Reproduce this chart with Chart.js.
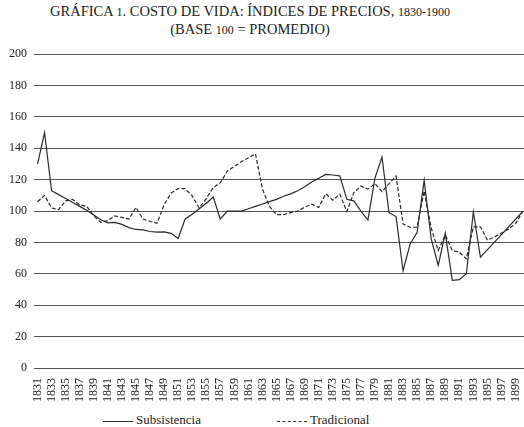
<!DOCTYPE html>
<html>
<head>
<meta charset="utf-8">
<script src="https://cdn.jsdelivr.net/npm/chart.js@4"></script>
<style>
  html, body { margin: 0; padding: 0; width: 524px; height: 427px; overflow: hidden; background: #fff; }
  body { position: relative; font-family: 'Liberation Serif', serif; color: #222; }
  #title { position: absolute; top: 3px; left: 0; width: 500px; text-align: center; font-size: 14.5px; line-height: 16.5px; }
  #title .num { font-size: 12px; }
  #wrap { position: absolute; left: 0; top: 40px; width: 539px; height: 364px; }
  #legend { position: absolute; top: 412px; left: 0; width: 524px; height: 15px; font-size: 13px; }
  .item { position: absolute; top: 0; white-space: nowrap; }
  .sample { display: inline-block; width: 30px; height: 0; vertical-align: middle; margin-right: 3px; border-top: 1.2px solid #333; }
  .sample.dash { border-top-style: dashed; }
</style>
</head>
<body>
<div id="title">GRÁFICA <span class="num">1</span>. COSTO DE VIDA: ÍNDICES DE PRECIOS, <span class="num">1830-1900</span><br>(BASE <span class="num">100</span> = PROMEDIO)</div>
<div id="wrap"><canvas id="chart"></canvas></div>
<div id="legend">
  <div class="item" style="left:103px"><span class="sample"></span>Subsistencia</div>
  <div class="item" style="left:277px"><span class="sample dash"></span>Tradicional</div>
</div>
<script>
// años 1831-1900
const years = [];
for (let y = 1831; y <= 1900; y++) years.push(String(y));

// índice de subsistencia (línea continua)
const subsistencia = [
  130, 150, 113, 110.5, 108, 105.5, 103, 100.5, 97.5, 94.5,
  92.5, 92.8, 91.5, 89.5, 88.3, 88, 87, 86.6, 86.8, 85.8,
  82.5, 95, 98, 101.5, 105, 109, 95, 100, 100, 100,
  101.5, 103, 104.5, 106, 107.5, 109.5, 111, 113, 115.5, 118.5,
  121, 123.4, 123, 122.5, 107.5, 106.5, 100, 94.3, 121, 134.4,
  99, 96.5, 62, 79, 86.5, 119.6, 82.3, 65.4, 85.8, 55.9,
  56.3, 60.1, 99.6, 70.6, 75.4, 80.2, 85, 89.9, 94.8, 99.7
];

// índice tradicional (línea discontinua)
const tradicional = [
  106, 110, 102, 101, 106.5, 107.5, 104, 103, 97, 92.8,
  93.9, 97, 96, 94.9, 102.3, 94.9, 93.5, 92.2, 104, 111.5,
  114.3, 114.3, 109.7, 102, 108, 115, 118, 125.5, 128.5, 131.5,
  134, 136.5, 114, 103, 97.7, 97.7, 99, 100, 102.5, 104.4,
  102.3, 111, 107, 110.8, 99.8, 111.8, 116, 114, 117.5, 112.4,
  117.5, 122.3, 91.8, 89.7, 89.7, 112.8, 89.2, 74.9, 84.8, 74.9,
  73.8, 69.6, 90, 90, 81.5, 83.5, 86, 88.5, 92, 99.7
];

Chart.defaults.font.family = "'Liberation Serif', serif";
Chart.defaults.color = '#222';

const ctx = document.getElementById('chart').getContext('2d');
new Chart(ctx, {
  type: 'line',
  data: {
    labels: years,
    datasets: [{
      label: 'Subsistencia',
      data: subsistencia,
      borderColor: '#2a2a2a',
      borderWidth: 1.2,
      pointRadius: 0,
      tension: 0,
      fill: false
    }, {
      label: 'Tradicional',
      data: tradicional,
      borderColor: '#2a2a2a',
      borderWidth: 1.2,
      borderDash: [4, 2],
      pointRadius: 0,
      tension: 0,
      fill: false
    }]
  },
  options: {
    responsive: true,
    maintainAspectRatio: false,
    animation: false,
    layout: { padding: { top: 4, right: 2, bottom: 0, left: 0 } },
    plugins: {
      legend: { display: false },
      tooltip: { enabled: false }
    },
    scales: {
      x: {
        offset: true,
        grid: { display: false },
        border: { display: false },
        ticks: {
          autoSkip: false,
          minRotation: 90,
          maxRotation: 90,
          padding: 2,
          font: { size: 12 },
          callback: function (v, i) { return i % 2 === 0 ? years[i] : ''; }
        }
      },
      y: {
        min: 0,
        max: 200,
        afterFit: s => { s.width = 34; },
        grid: { color: '#555', lineWidth: 1, drawTicks: false },
        border: { display: false },
        ticks: { stepSize: 20, padding: 7, font: { size: 12 } }
      }
    }
  }
});
</script>
</body>
</html>
